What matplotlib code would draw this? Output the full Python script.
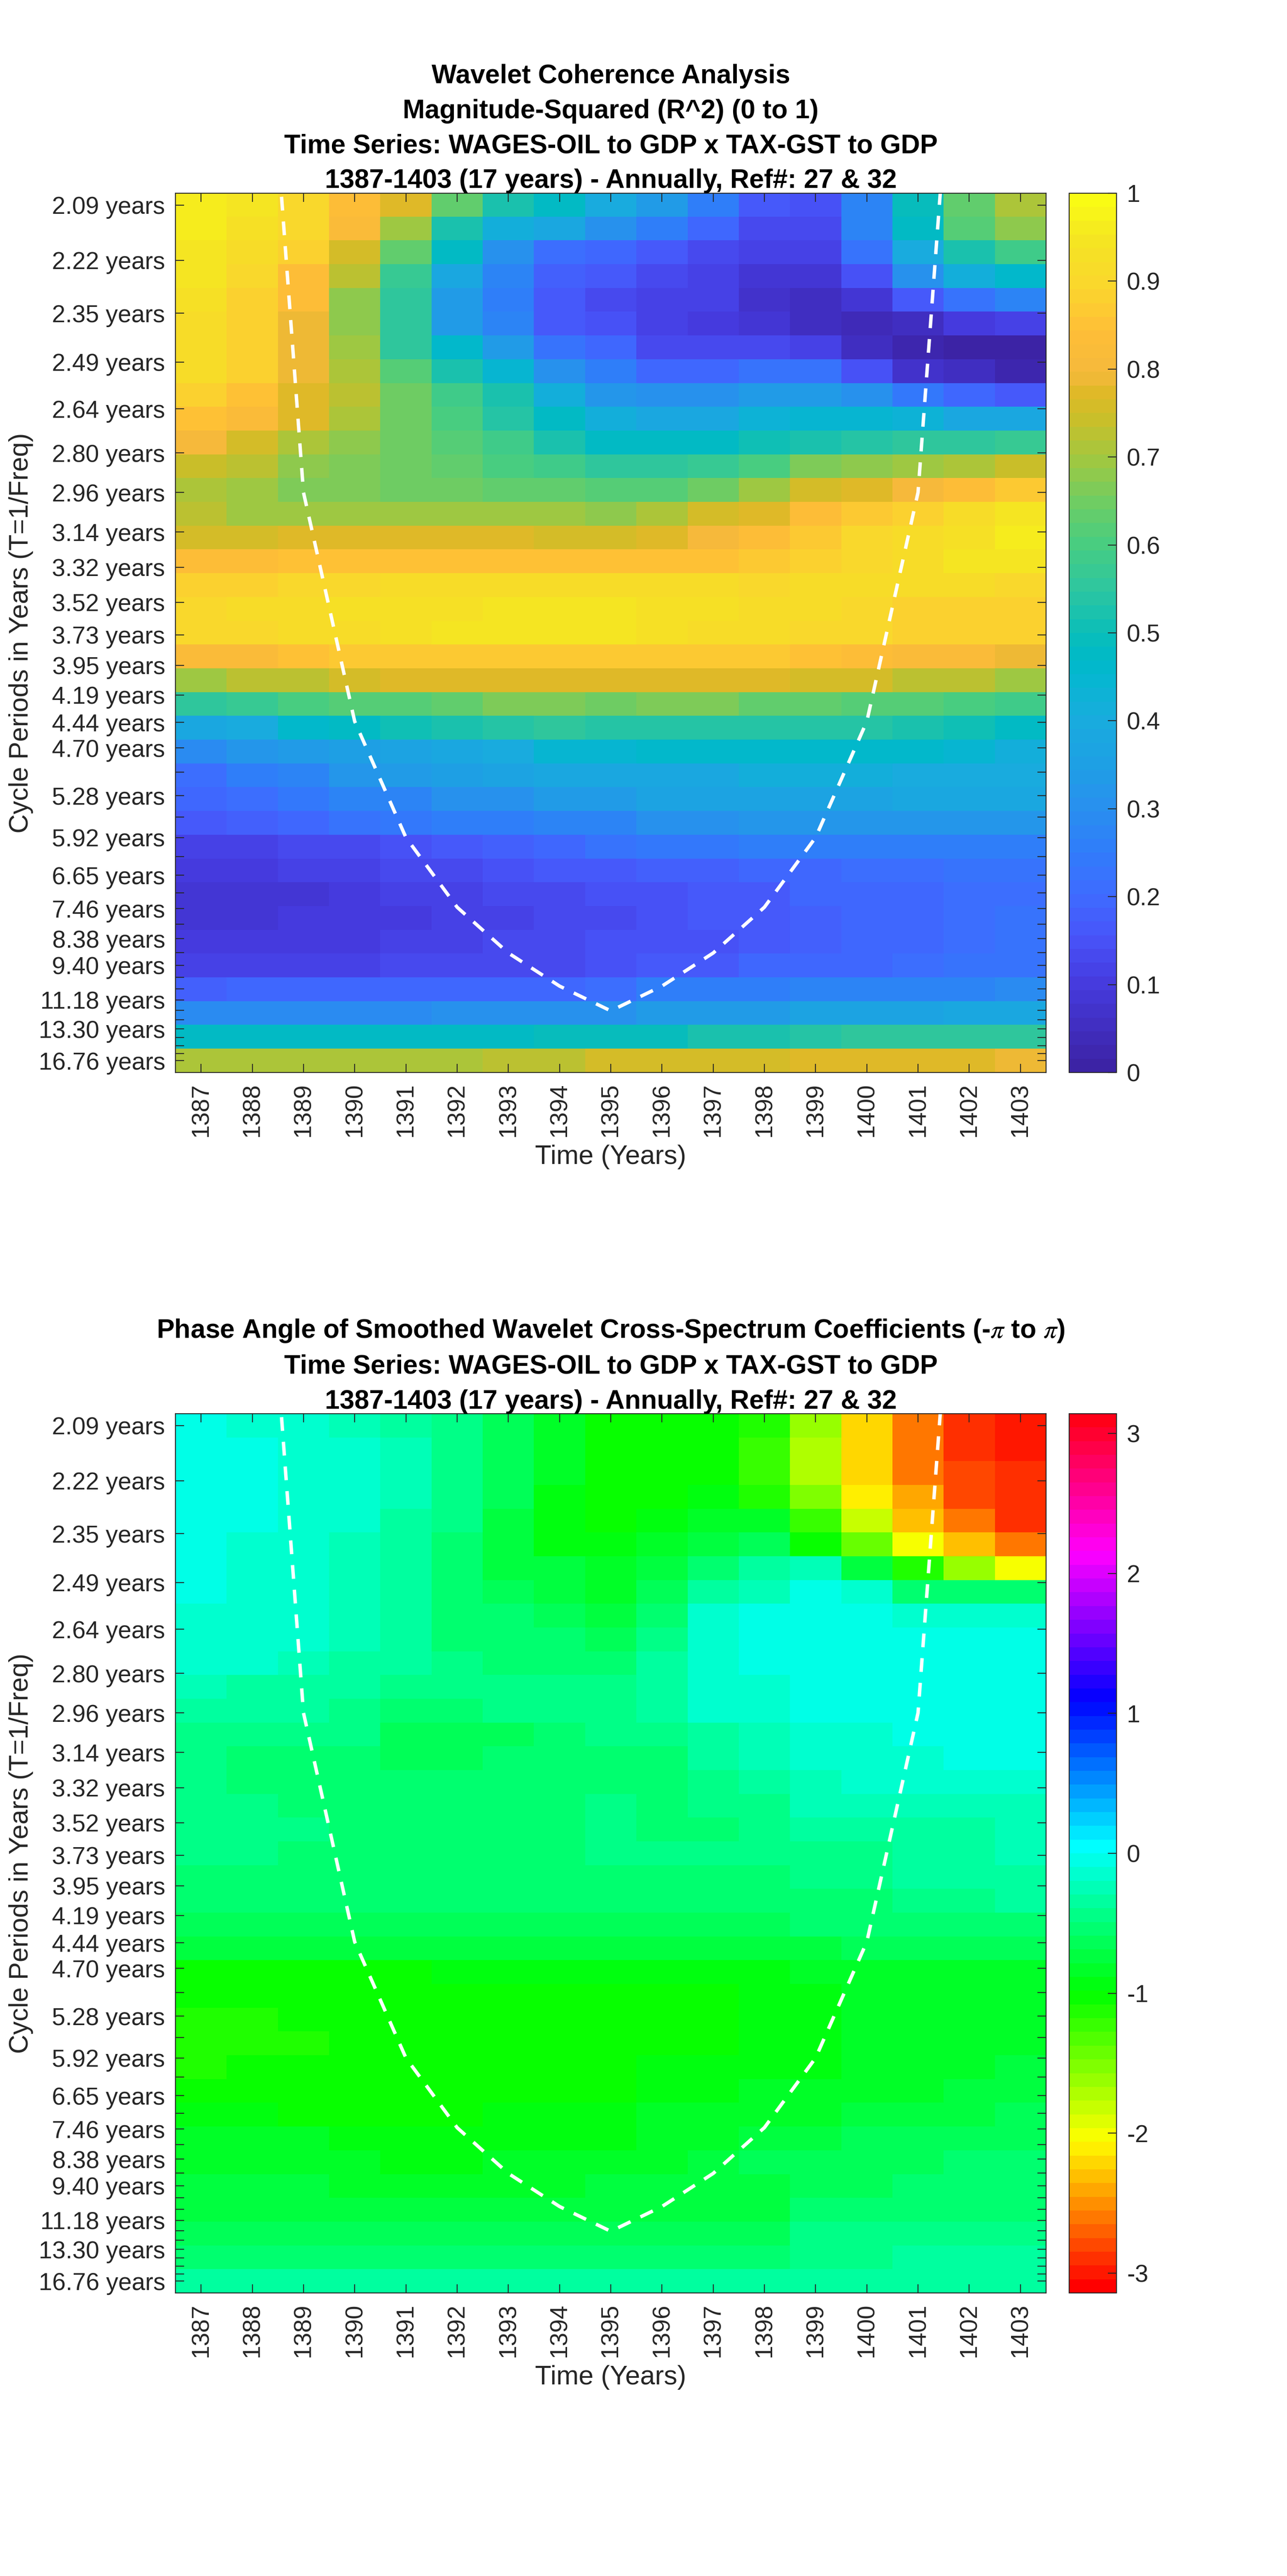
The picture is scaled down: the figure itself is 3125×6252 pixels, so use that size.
# plot.py - wavelet coherence and phase heatmaps

import matplotlib
matplotlib.use('Agg')
import matplotlib.pyplot as plt
import numpy as np
from matplotlib.colors import LinearSegmentedColormap, ListedColormap, hsv_to_rgb

plt.rcParams['font.family'] = ['Liberation Sans', 'DejaVu Sans']
plt.rcParams['mathtext.fontset'] = 'stix'

years = list(range(1387, 1404))

# cycle periods of the 37 rows / y ticks
periods = [2.09, 2.215, 2.35, 2.49, 2.64, 2.80, 2.96, 3.14, 3.32, 3.52, 3.73, 3.95, 4.19,
           4.44, 4.70, 4.98, 5.28, 5.59, 5.92, 6.27, 6.65, 7.05, 7.46, 7.91, 8.38, 8.88,
           9.40, 9.96, 10.55, 11.18, 11.85, 12.55, 13.30, 14.09, 14.93, 15.82, 16.76]
period_labels = ['2.09', '2.22', '2.35', '2.49', '2.64', '2.80', '2.96', '3.14', '3.32', '3.52',
                 '3.73', '3.95', '4.19', '4.44', '4.70', '', '5.28', '', '5.92', '', '6.65', '',
                 '7.46', '', '8.38', '', '9.40', '', '', '11.18', '', '', '13.30', '', '', '',
                 '16.76']

# cone of influence
coi_years = [1388, 1389, 1390, 1391, 1392, 1393, 1394, 1395, 1396, 1397, 1398, 1399, 1400, 1401, 1402]
coi_periods = [1.48, 2.96, 4.43, 5.92, 7.42, 8.9, 10.4, 11.9, 10.4, 8.9, 7.42, 5.92, 4.43, 2.96, 1.48]

coherence = [
    [.96, .95, .90, .84, .77, .64, .53, .47, .40, .34, .26, .17, .15, .27, .49, .63, .71],
    [.96, .93, .90, .82, .70, .53, .41, .38, .30, .26, .19, .14, .14, .27, .47, .61, .68],
    [.95, .91, .88, .75, .63, .47, .31, .21, .19, .17, .14, .11, .12, .23, .40, .53, .58],
    [.95, .90, .84, .73, .57, .39, .27, .18, .16, .13, .12, .09, .08, .15, .30, .42, .46],
    [.93, .89, .83, .68, .55, .34, .26, .17, .14, .11, .11, .07, .05, .09, .17, .23, .28],
    [.92, .89, .79, .68, .55, .34, .28, .17, .15, .11, .10, .08, .06, .04, .06, .10, .12],
    [.92, .89, .79, .69, .56, .46, .33, .22, .20, .14, .13, .14, .11, .06, .02, .01, .01],
    [.91, .88, .79, .71, .62, .52, .45, .31, .26, .20, .20, .22, .22, .15, .07, .05, .03],
    [.89, .85, .78, .72, .65, .58, .52, .42, .32, .31, .31, .34, .34, .31, .24, .19, .16],
    [.85, .82, .77, .71, .65, .60, .54, .48, .41, .39, .39, .43, .45, .45, .43, .38, .38],
    [.80, .76, .71, .68, .65, .62, .58, .53, .48, .47, .48, .51, .53, .54, .55, .55, .57],
    [.74, .72, .68, .66, .65, .63, .60, .58, .55, .55, .57, .60, .66, .68, .69, .71, .74],
    [.71, .69, .67, .66, .65, .65, .63, .63, .62, .62, .65, .70, .75, .78, .81, .83, .86],
    [.72, .70, .70, .70, .70, .70, .70, .70, .68, .71, .75, .78, .83, .86, .89, .91, .94],
    [.76, .76, .78, .78, .78, .78, .78, .76, .76, .78, .81, .83, .86, .90, .91, .93, .96],
    [.83, .83, .85, .85, .85, .85, .85, .85, .85, .85, .85, .87, .88, .90, .92, .95, .95],
    [.89, .89, .90, .90, .92, .92, .92, .92, .92, .92, .92, .90, .91, .91, .91, .91, .90],
    [.90, .92, .92, .93, .93, .93, .94, .94, .95, .93, .93, .91, .91, .90, .89, .88, .88],
    [.90, .90, .92, .92, .93, .94, .95, .95, .94, .93, .91, .91, .90, .90, .88, .88, .88],
    [.82, .82, .85, .86, .87, .87, .87, .87, .86, .86, .86, .86, .85, .83, .82, .82, .79],
    [.70, .72, .73, .75, .77, .78, .78, .78, .77, .77, .77, .77, .75, .75, .73, .73, .70],
    [.55, .57, .60, .61, .62, .64, .66, .66, .65, .66, .66, .64, .64, .62, .62, .60, .58],
    [.38, .40, .46, .47, .50, .52, .54, .55, .54, .54, .54, .54, .54, .54, .53, .50, .48],
    [.29, .32, .33, .35, .37, .39, .40, .44, .44, .46, .46, .46, .46, .46, .46, .45, .42],
    [.21, .25, .28, .32, .33, .35, .36, .38, .38, .39, .39, .42, .42, .42, .40, .40, .40],
    [.19, .21, .24, .27, .27, .31, .31, .33, .34, .36, .36, .37, .37, .37, .38, .38, .38],
    [.16, .18, .20, .23, .24, .25, .25, .27, .28, .31, .31, .32, .32, .32, .32, .32, .32],
    [.11, .12, .13, .14, .15, .17, .18, .19, .22, .24, .24, .25, .25, .25, .26, .26, .26],
    [.10, .10, .11, .12, .13, .14, .15, .16, .17, .18, .18, .19, .20, .21, .21, .22, .22],
    [.09, .09, .09, .10, .11, .12, .13, .14, .15, .15, .17, .17, .19, .20, .20, .21, .21],
    [.09, .09, .10, .10, .10, .12, .12, .14, .14, .15, .16, .17, .18, .20, .20, .21, .22],
    [.10, .10, .10, .10, .11, .12, .13, .14, .15, .15, .15, .16, .18, .19, .20, .21, .22],
    [.12, .12, .12, .12, .13, .13, .14, .14, .15, .17, .17, .19, .20, .20, .21, .22, .22],
    [.18, .19, .19, .19, .19, .20, .20, .20, .21, .25, .26, .26, .27, .27, .28, .28, .29],
    [.29, .29, .29, .29, .29, .30, .30, .30, .31, .33, .34, .34, .36, .37, .37, .38, .39],
    [.47, .47, .47, .47, .47, .47, .47, .49, .49, .49, .52, .52, .54, .55, .55, .56, .56],
    [.71, .71, .71, .71, .71, .71, .72, .72, .75, .75, .75, .75, .77, .77, .77, .77, .79],
]

phase = [
    [-.08, -.17, -.17, -.27, -.30, -.45, -.65, -.85, -1.0, -1.04, -1.04, -1.15, -1.6, -2.25, -2.6, -2.85, -2.95],
    [-.05, -.05, -.12, -.12, -.20, -.42, -.62, -.88, -1.02, -1.04, -1.04, -1.25, -1.75, -2.25, -2.6, -2.85, -2.95],
    [-.05, -.05, -.10, -.12, -.20, -.42, -.62, -.88, -1.04, -1.04, -1.04, -1.25, -1.75, -2.25, -2.6, -2.8, -2.85],
    [-.05, -.05, -.10, -.12, -.20, -.42, -.65, -.90, -1.04, -1.04, -.95, -1.1, -1.5, -2.1, -2.45, -2.75, -2.85],
    [-.05, -.05, -.10, -.12, -.30, -.42, -.75, -.92, -1.0, -.95, -.82, -.85, -1.25, -1.85, -2.35, -2.65, -2.85],
    [-.05, -.12, -.12, -.20, -.32, -.52, -.75, -.92, -.95, -.88, -.78, -.65, -1.0, -1.4, -2.0, -2.35, -2.6],
    [-.05, -.12, -.12, -.20, -.32, -.52, -.70, -.78, -.88, -.75, -.58, -.38, -.27, -.72, -1.15, -1.65, -2.0],
    [-.05, -.12, -.12, -.20, -.32, -.52, -.62, -.70, -.80, -.60, -.38, -.20, -.05, -.15, -.55, -.58, -.58],
    [-.12, -.14, -.14, -.22, -.32, -.50, -.58, -.60, -.72, -.50, -.15, -.03, -.03, -.03, -.15, -.15, -.15],
    [-.16, -.16, -.16, -.24, -.33, -.50, -.55, -.55, -.62, -.42, -.12, -.03, -.03, -.03, -.03, -.03, -.03],
    [-.18, -.18, -.24, -.33, -.38, -.48, -.55, -.50, -.58, -.35, -.12, -.03, -.03, -.03, -.03, -.03, -.03],
    [-.27, -.30, -.30, -.33, -.45, -.48, -.48, -.47, -.48, -.35, -.12, -.15, -.03, -.03, -.03, -.03, -.03],
    [-.30, -.38, -.38, -.45, -.52, -.50, -.48, -.47, -.42, -.35, -.12, -.15, -.03, -.03, -.03, -.03, -.03],
    [-.42, -.42, -.48, -.48, -.62, -.62, -.62, -.52, -.42, -.42, -.30, -.20, -.12, -.12, -.03, -.03, -.03],
    [-.42, -.52, -.52, -.52, -.65, -.65, -.55, -.52, -.50, -.50, -.30, -.28, -.15, -.15, -.14, -.03, -.03],
    [-.42, -.52, -.52, -.52, -.55, -.55, -.52, -.52, -.50, -.52, -.48, -.33, -.25, -.16, -.16, -.15, -.15],
    [-.42, -.42, -.50, -.50, -.50, -.50, -.50, -.50, -.42, -.50, -.48, -.40, -.25, -.25, -.20, -.20, -.20],
    [-.42, -.42, -.42, -.50, -.50, -.50, -.50, -.50, -.45, -.50, -.50, -.45, -.35, -.35, -.30, -.30, -.22],
    [-.42, -.42, -.50, -.50, -.50, -.50, -.50, -.50, -.45, -.40, -.40, -.40, -.42, -.42, -.30, -.30, -.25],
    [-.50, -.50, -.50, -.50, -.50, -.50, -.50, -.50, -.50, -.50, -.50, -.50, -.42, -.42, -.38, -.38, -.30],
    [-.58, -.58, -.58, -.58, -.58, -.58, -.58, -.58, -.55, -.55, -.55, -.55, -.50, -.50, -.47, -.47, -.35],
    [-.62, -.62, -.62, -.62, -.62, -.62, -.62, -.62, -.62, -.62, -.62, -.62, -.52, -.52, -.52, -.52, -.50],
    [-.72, -.72, -.72, -.72, -.72, -.72, -.72, -.72, -.72, -.72, -.72, -.72, -.72, -.62, -.62, -.60, -.60],
    [-1.05, -1.05, -1.05, -1.05, -1.05, -.98, -.98, -.98, -.95, -.90, -.90, -.90, -.80, -.80, -.80, -.80, -.80],
    [-1.05, -1.05, -1.05, -1.05, -1.05, -1.05, -1.05, -1.05, -1.04, -1.02, -1.0, -.92, -.92, -.88, -.88, -.88, -.88],
    [-1.15, -1.15, -1.05, -1.05, -1.05, -1.05, -1.05, -1.05, -1.04, -1.02, -1.0, -.98, -.98, -.88, -.88, -.88, -.88],
    [-1.15, -1.15, -1.15, -1.05, -1.05, -1.05, -1.05, -1.05, -1.05, -1.0, -1.0, -.98, -.98, -.88, -.88, -.88, -.88],
    [-1.17, -1.07, -1.07, -1.07, -1.07, -1.07, -1.07, -1.07, -1.05, -.98, -.98, -.90, -.90, -.88, -.88, -.88, -.78],
    [-1.03, -1.05, -1.05, -1.05, -1.05, -1.05, -1.05, -1.05, -1.02, -.92, -.92, -.88, -.88, -.80, -.80, -.78, -.72],
    [-.95, -.95, -1.03, -1.03, -1.03, -1.03, -.95, -.95, -.95, -.88, -.88, -.85, -.82, -.75, -.70, -.70, -.68],
    [-.88, -.88, -.88, -.97, -.97, -.97, -.97, -.92, -.90, -.85, -.82, -.75, -.70, -.68, -.65, -.62, -.60],
    [-.85, -.85, -.85, -.85, -.93, -.93, -.88, -.88, -.85, -.80, -.78, -.68, -.68, -.68, -.62, -.58, -.58],
    [-.75, -.75, -.75, -.85, -.85, -.85, -.85, -.85, -.78, -.72, -.72, -.72, -.62, -.62, -.55, -.55, -.50],
    [-.70, -.70, -.70, -.70, -.70, -.70, -.70, -.70, -.70, -.70, -.70, -.70, -.52, -.52, -.52, -.52, -.50],
    [-.62, -.62, -.62, -.62, -.62, -.62, -.62, -.62, -.62, -.60, -.60, -.60, -.45, -.45, -.45, -.45, -.42],
    [-.50, -.50, -.50, -.50, -.50, -.50, -.50, -.50, -.50, -.50, -.50, -.50, -.42, -.42, -.32, -.32, -.32],
    [-.35, -.35, -.35, -.35, -.35, -.35, -.35, -.35, -.35, -.35, -.35, -.35, -.32, -.32, -.30, -.30, -.30],
]

title_top = ('Wavelet Coherence Analysis\nMagnitude-Squared (R^2) (0 to 1)\n'
             'Time Series: WAGES-OIL to GDP x TAX-GST to GDP\n'
             '1387-1403 (17 years) - Annually, Ref#: 27 & 32')
title_bottom = ('Phase Angle of Smoothed Wavelet Cross-Spectrum Coefficients (-$\\pi$ to $\\pi$)\n'
                'Time Series: WAGES-OIL to GDP x TAX-GST to GDP\n'
                '1387-1403 (17 years) - Annually, Ref#: 27 & 32')

# parula look-alike
parula = LinearSegmentedColormap.from_list('parula_like', [
    (0.0, '#3c23a5'), (0.1, '#463ce1'), (0.15, '#4855fa'), (0.2, '#3e6cff'), (0.25, '#307dfa'),
    (0.3, '#2891ee'), (0.35, '#1ea0e4'), (0.4, '#19acde'), (0.45, '#05b7d0'), (0.47, '#00b9c8'),
    (0.5, '#0abeb9'), (0.55, '#2dc6a0'), (0.6, '#46cd82'), (0.65, '#6ecd64'), (0.7, '#a0c841'),
    (0.75, '#cdbe28'), (0.78, '#e1b928'), (0.8, '#f5b93c'), (0.85, '#ffbe37'), (0.9, '#fad72d'),
    (0.95, '#f5e423'), (1.0, '#f9fb14')], N=64)

# matlab hsv(64)
hsv64 = np.ones((64, 3))
hsv64[:, 0] = np.arange(64) / 64
hsv_map = ListedColormap(hsv_to_rgb(hsv64))

W, H = 3125, 6252
TEXT = '#262626'


def draw_panel(top_px, data, cmap, vmin, vmax, title, cticks, cticklabels):
    ax = fig.add_axes([426 / W, 1 - (top_px + 2134) / H, 2114 / W, 2134 / H])
    cax = fig.add_axes([2595.5 / W, 1 - (top_px + 2134) / H, 115.5 / W, 2134 / H])

    freqs = 1 / np.array(periods)
    half = (freqs[0] - freqs[-1]) / (len(freqs) - 1) / 2
    im = ax.imshow(np.array(data), cmap=cmap, vmin=vmin, vmax=vmax, aspect='auto',
                   interpolation='nearest',
                   extent=[years[0] - .5, years[-1] + .5, freqs[-1] - half, freqs[0] + half])

    # cone of influence, clipped by the axes
    ax.plot(coi_years, 1 / np.array(coi_periods), color='white', linewidth=2.0,
            linestyle=(0, (4.0, 3.2)), dash_capstyle='butt')
    ax.set_xlim(years[0] - .5, years[-1] + .5)
    ax.set_ylim(freqs[-1] - half, freqs[0] + half)

    ax.set_xticks(years)
    ax.set_xticklabels(years, rotation=90)
    ax.set_yticks(freqs)
    ax.set_yticklabels([p + ' years' if p else '' for p in period_labels])
    ax.tick_params(direction='in', length=5, width=.55, top=True, right=True, labelsize=14.1,
                   colors=TEXT, pad=6)
    ax.set_xlabel('Time (Years)', fontsize=15.6, color=TEXT, labelpad=4.5)
    ax.set_ylabel('Cycle Periods in Years (T=1/Freq)', fontsize=15.5, color=TEXT, labelpad=3)
    ax.set_title(title, fontsize=15.45, fontweight='bold', color='black', linespacing=1.525, pad=3)
    for s in ax.spines.values():
        s.set_linewidth(.55)
        s.set_color(TEXT)

    cb = fig.colorbar(im, cax=cax, drawedges=False)
    cb.set_ticks(cticks)
    cb.set_ticklabels(cticklabels)
    cb.ax.tick_params(direction='in', length=5, width=.55, labelsize=14.1, colors=TEXT, pad=6)
    cb.outline.set_linewidth(.55)
    cb.outline.set_edgecolor(TEXT)


fig = plt.figure(figsize=(W / 300, H / 300), dpi=300)

draw_panel(469, coherence, parula, 0, 1, title_top,
           [0, .1, .2, .3, .4, .5, .6, .7, .8, .9, 1],
           ['0', '0.1', '0.2', '0.3', '0.4', '0.5', '0.6', '0.7', '0.8', '0.9', '1'])
draw_panel(3431, phase, hsv_map, -np.pi, np.pi, title_bottom,
           [-3, -2, -1, 0, 1, 2, 3], ['-3', '-2', '-1', '0', '1', '2', '3'])

fig.savefig('out.png', dpi=300, facecolor='white')
